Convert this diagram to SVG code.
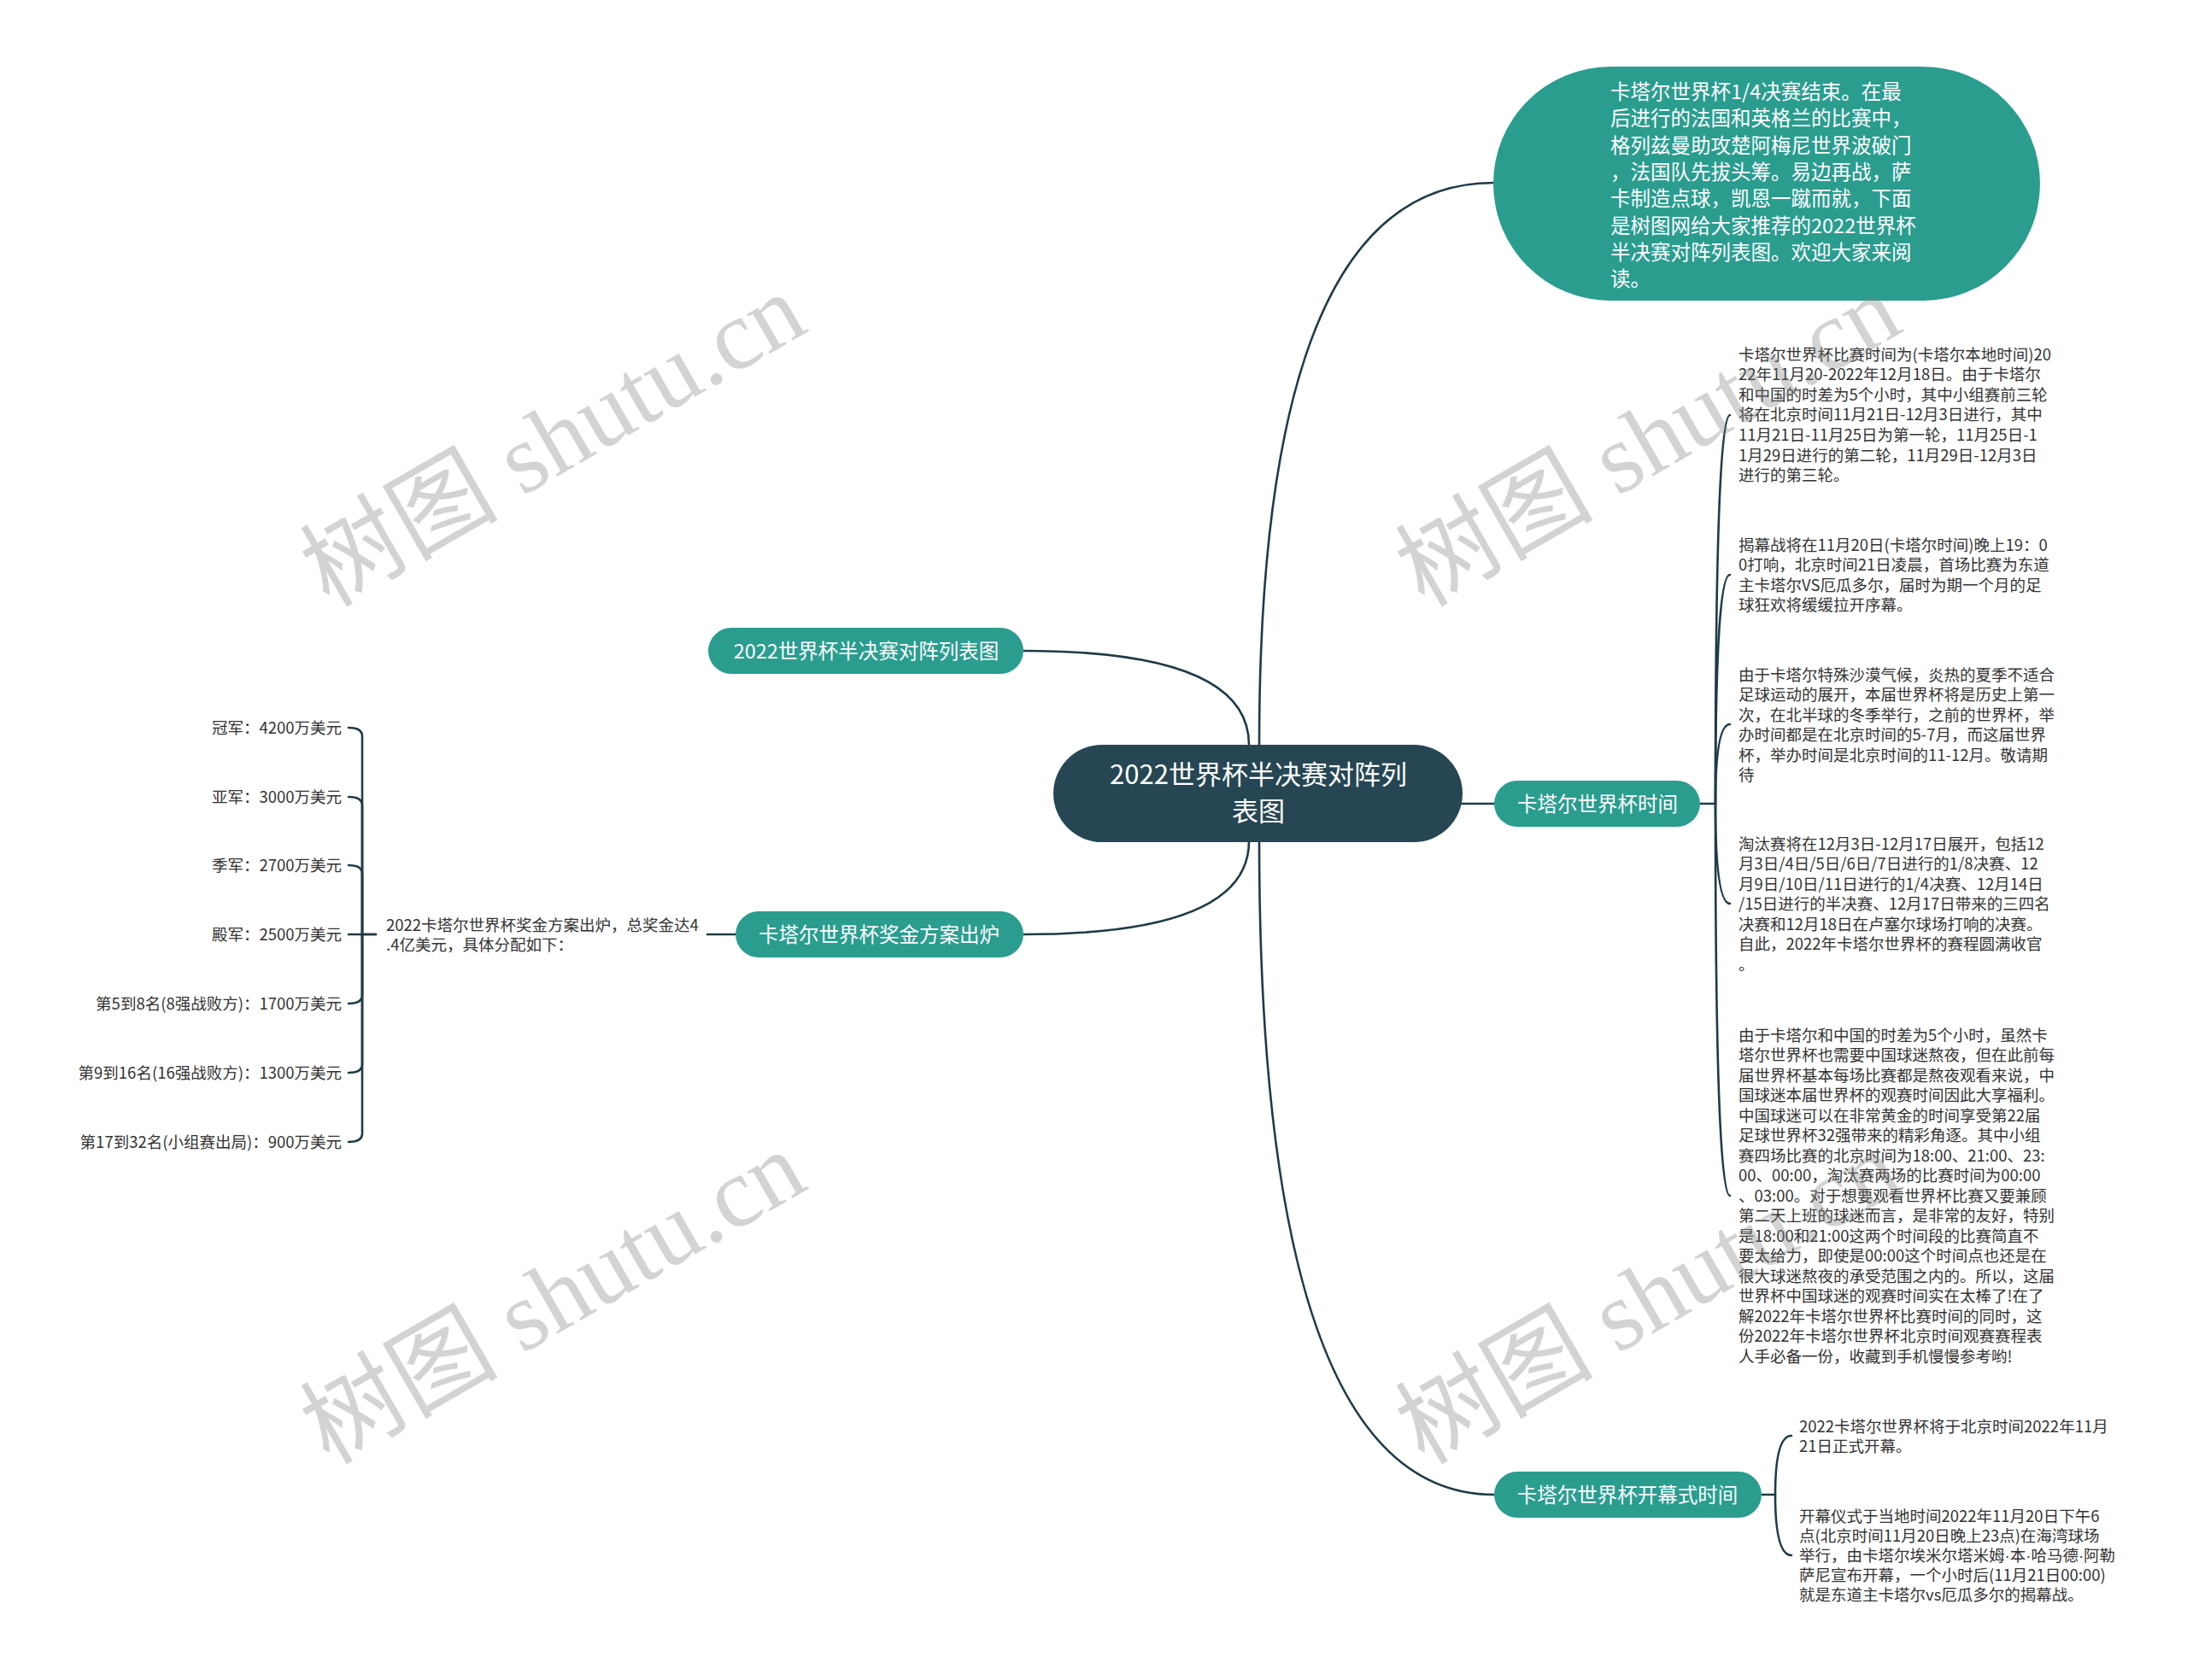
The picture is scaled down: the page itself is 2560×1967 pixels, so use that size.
<svg xmlns="http://www.w3.org/2000/svg" width="2560" height="1967" viewBox="0 0 2560 1967">
<style>
text{font-family:"Noto Sans CJK SC","Noto Sans",sans-serif;}
.lk{fill:none;stroke:#1f3b46;stroke-width:2.6;stroke-linecap:round;}
.teal{fill:#2a9d8f;}
.dark{fill:#264653;}
.lbl{fill:#ffffff;font-size:23.5px;text-anchor:middle;}
.big{fill:#ffffff;font-size:31px;text-anchor:middle;}
.intro{fill:#ffffff;font-size:23.5px;}
.leaf{fill:#333333;font-size:18.5px;}
.leafr{fill:#333333;font-size:18.5px;text-anchor:end;}
.dot{font-family:"Liberation Sans",sans-serif;}
.wm{font-family:"Liberation Serif","Noto Sans CJK SC",serif;font-size:116px;fill:#808080;fill-opacity:0.35;}
</style>
<rect width="2560" height="1967" fill="#ffffff"/>
<g id="connectors">
<path class="lk" d="M1474,872 Q1474,214 1748,214"/>
<path class="lk" d="M1462,872 Q1462,762 1198,762"/>
<path class="lk" d="M1462,985 Q1462,1094 1198,1094"/>
<path class="lk" d="M1474,985 Q1474,1750 1749,1750"/>
<path class="lk" d="M1711,941 L1749,941"/>
<path class="lk" d="M828,1094 L861,1094"/>
<path class="lk" d="M1990,941 L2008,941"/>
<path class="lk" d="M2008,941 Q2008,486 2025,486"/>
<path class="lk" d="M2008,941 Q2008,673 2025,673"/>
<path class="lk" d="M2008,941 Q2008,848 2025,848"/>
<path class="lk" d="M2008,941 Q2008,1058 2025,1058"/>
<path class="lk" d="M2008,941 Q2008,1400 2025,1400"/>
<path class="lk" d="M2062,1750 L2078,1750"/>
<path class="lk" d="M2078,1750 Q2078,1681 2097,1681"/>
<path class="lk" d="M2078,1750 Q2078,1821 2097,1821"/>
<path class="lk" d="M440,1094 H424 V862 Q424,852 408,852"/>
<path class="lk" d="M424,1094 V943 Q424,933 408,933"/>
<path class="lk" d="M424,1094 V1023 Q424,1013 408,1013"/>
<path class="lk" d="M440,1094 H408"/>
<path class="lk" d="M424,1094 V1165 Q424,1175 408,1175"/>
<path class="lk" d="M424,1094 V1246 Q424,1256 408,1256"/>
<path class="lk" d="M424,1094 V1327 Q424,1337 408,1337"/>
</g>
<g id="node-center">
<rect class="dark" x="1233" y="872" width="479" height="114" rx="57"/>
<text class="big" x="1473" y="918">2022世界杯半决赛对阵列</text>
<text class="big" x="1473" y="961">表图</text>
</g>
<g id="node-intro">
<rect class="teal" x="1748" y="78" width="640" height="274" rx="137"/>
<text class="intro" x="1885" y="116"><tspan x="1885">卡塔尔世界杯1/4决赛结束。在最</tspan><tspan x="1885" dy="31.3">后进行的法国和英格兰的比赛中，</tspan><tspan x="1885" dy="31.3">格列兹曼助攻楚阿梅尼世界波破门</tspan><tspan x="1885" dy="31.3">，法国队先拔头筹。易边再战，萨</tspan><tspan x="1885" dy="31.3">卡制造点球，凯恩一蹴而就，下面</tspan><tspan x="1885" dy="31.3">是树图网给大家推荐的2022世界杯</tspan><tspan x="1885" dy="31.3">半决赛对阵列表图。欢迎大家来阅</tspan><tspan x="1885" dy="31.3">读。</tspan></text>
</g>
<g id="node-title">
<rect class="teal" x="829" y="735" width="369" height="54" rx="27"/>
<text class="lbl" x="1014" y="770.5">2022世界杯半决赛对阵列表图</text>
</g>
<g id="node-prize">
<rect class="teal" x="861" y="1067" width="337" height="54" rx="27"/>
<text class="lbl" x="1029" y="1102.5">卡塔尔世界杯奖金方案出炉</text>
</g>
<g id="node-prize-detail">
<text class="leaf" x="452" y="1089.5"><tspan x="452">2022卡塔尔世界杯奖金方案出炉，总奖金达4</tspan><tspan x="452" dy="23">.4亿美元，具体分配如下：</tspan></text>
</g>
<g id="node-prize-leaves">
<text class="leafr" x="400" y="858.5">冠军：4200万美元</text>
<text class="leafr" x="400" y="939.5">亚军：3000万美元</text>
<text class="leafr" x="400" y="1019.5">季军：2700万美元</text>
<text class="leafr" x="400" y="1100.5">殿军：2500万美元</text>
<text class="leafr" x="400" y="1181.5">第5到8名(8强战败方)：1700万美元</text>
<text class="leafr" x="400" y="1262.5">第9到16名(16强战败方)：1300万美元</text>
<text class="leafr" x="400" y="1343.5">第17到32名(小组赛出局)：900万美元</text>
</g>
<g id="node-time">
<rect class="teal" x="1749" y="914" width="241" height="54" rx="27"/>
<text class="lbl" x="1870" y="949.5">卡塔尔世界杯时间</text>
</g>
<g id="node-time-1">
<text class="leaf" x="2035" y="421.5"><tspan x="2035">卡塔尔世界杯比赛时间为(卡塔尔本地时间)20</tspan><tspan x="2035" dy="23.6">22年11月20-2022年12月18日。由于卡塔尔</tspan><tspan x="2035" dy="23.6">和中国的时差为5个小时，其中小组赛前三轮</tspan><tspan x="2035" dy="23.6">将在北京时间11月21日-12月3日进行，其中</tspan><tspan x="2035" dy="23.6">11月21日-11月25日为第一轮，11月25日-1</tspan><tspan x="2035" dy="23.6">1月29日进行的第二轮，11月29日-12月3日</tspan><tspan x="2035" dy="23.6">进行的第三轮。</tspan></text>
</g>
<g id="node-time-2">
<text class="leaf" x="2035" y="644.5"><tspan x="2035">揭幕战将在11月20日(卡塔尔时间)晚上19：0</tspan><tspan x="2035" dy="23.5">0打响，北京时间21日凌晨，首场比赛为东道</tspan><tspan x="2035" dy="23.5">主卡塔尔VS厄瓜多尔，届时为期一个月的足</tspan><tspan x="2035" dy="23.5">球狂欢将缓缓拉开序幕。</tspan></text>
</g>
<g id="node-time-3">
<text class="leaf" x="2035" y="796.5"><tspan x="2035">由于卡塔尔特殊沙漠气候，炎热的夏季不适合</tspan><tspan x="2035" dy="23.5">足球运动的展开，本届世界杯将是历史上第一</tspan><tspan x="2035" dy="23.5">次，在北半球的冬季举行，之前的世界杯，举</tspan><tspan x="2035" dy="23.5">办时间都是在北京时间的5-7月，而这届世界</tspan><tspan x="2035" dy="23.5">杯，举办时间是北京时间的11-12月。敬请期</tspan><tspan x="2035" dy="23.5">待</tspan></text>
</g>
<g id="node-time-4">
<text class="leaf" x="2035" y="994.5"><tspan x="2035">淘汰赛将在12月3日-12月17日展开，包括12</tspan><tspan x="2035" dy="23.5">月3日/4日/5日/6日/7日进行的1/8决赛、12</tspan><tspan x="2035" dy="23.5">月9日/10日/11日进行的1/4决赛、12月14日</tspan><tspan x="2035" dy="23.5">/15日进行的半决赛、12月17日带来的三四名</tspan><tspan x="2035" dy="23.5">决赛和12月18日在卢塞尔球场打响的决赛。</tspan><tspan x="2035" dy="23.5">自此，2022年卡塔尔世界杯的赛程圆满收官</tspan><tspan x="2035" dy="23.5">。</tspan></text>
</g>
<g id="node-time-5">
<text class="leaf" x="2035" y="1218.5"><tspan x="2035">由于卡塔尔和中国的时差为5个小时，虽然卡</tspan><tspan x="2035" dy="23.5">塔尔世界杯也需要中国球迷熬夜，但在此前每</tspan><tspan x="2035" dy="23.5">届世界杯基本每场比赛都是熬夜观看来说，中</tspan><tspan x="2035" dy="23.5">国球迷本届世界杯的观赛时间因此大享福利。</tspan><tspan x="2035" dy="23.5">中国球迷可以在非常黄金的时间享受第22届</tspan><tspan x="2035" dy="23.5">足球世界杯32强带来的精彩角逐。其中小组</tspan><tspan x="2035" dy="23.5">赛四场比赛的北京时间为18:00、21:00、23:</tspan><tspan x="2035" dy="23.5">00、00:00，淘汰赛两场的比赛时间为00:00</tspan><tspan x="2035" dy="23.5">、03:00。对于想要观看世界杯比赛又要兼顾</tspan><tspan x="2035" dy="23.5">第二天上班的球迷而言，是非常的友好，特别</tspan><tspan x="2035" dy="23.5">是18:00和21:00这两个时间段的比赛简直不</tspan><tspan x="2035" dy="23.5">要太给力，即使是00:00这个时间点也还是在</tspan><tspan x="2035" dy="23.5">很大球迷熬夜的承受范围之内的。所以，这届</tspan><tspan x="2035" dy="23.5">世界杯中国球迷的观赛时间实在太棒了!在了</tspan><tspan x="2035" dy="23.5">解2022年卡塔尔世界杯比赛时间的同时，这</tspan><tspan x="2035" dy="23.5">份2022年卡塔尔世界杯北京时间观赛赛程表</tspan><tspan x="2035" dy="23.5">人手必备一份，收藏到手机慢慢参考哟!</tspan></text>
</g>
<g id="node-opening">
<rect class="teal" x="1749" y="1723" width="313" height="54" rx="27"/>
<text class="lbl" x="1905" y="1758.5">卡塔尔世界杯开幕式时间</text>
</g>
<g id="node-opening-1">
<text class="leaf" x="2106" y="1676.5"><tspan x="2106">2022卡塔尔世界杯将于北京时间2022年11月</tspan><tspan x="2106" dy="23">21日正式开幕。</tspan></text>
</g>
<g id="node-opening-2">
<text class="leaf" x="2106" y="1781.5"><tspan x="2106">开幕仪式于当地时间2022年11月20日下午6</tspan><tspan x="2106" dy="23">点(北京时间11月20日晚上23点)在海湾球场</tspan><tspan x="2106" dy="23">举行，由卡塔尔埃米尔塔米姆<tspan class="dot">·</tspan>本<tspan class="dot">·</tspan>哈马德<tspan class="dot">·</tspan>阿勒</tspan><tspan x="2106" dy="23">萨尼宣布开幕，一个小时后(11月21日00:00)</tspan><tspan x="2106" dy="23">就是东道主卡塔尔vs厄瓜多尔的揭幕战。</tspan></text>
</g>
<g id="watermarks">
<text class="wm" transform="translate(385,712) rotate(-30)">树图 shutu.cn</text>
<text class="wm" transform="translate(1667,712) rotate(-30)">树图 shutu.cn</text>
<text class="wm" transform="translate(385,1716) rotate(-30)">树图 shutu.cn</text>
<text class="wm" transform="translate(1667,1716) rotate(-30)">树图 shutu.cn</text>
</g>
</svg>
